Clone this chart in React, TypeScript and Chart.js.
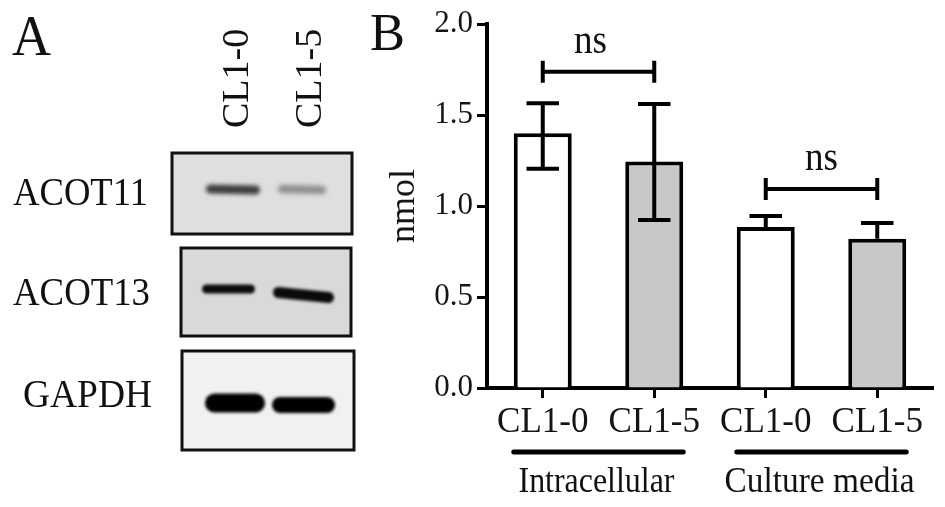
import React, { useEffect, useRef } from "react";
import { Chart, registerables } from "chart.js";

Chart.register(...registerables);

// ---- Panel B data ----
const categories = ["CL1-0", "CL1-5", "CL1-0", "CL1-5"];
const means = [1.4, 1.245, 0.885, 0.82];
const errHigh = [1.565, 1.56, 0.945, 0.907];
const errLow: (number | null)[] = [1.205, 0.923, null, null];
const barColors = ["#ffffff", "#c8c8c8", "#ffffff", "#c8c8c8"];
const yTickValues = [0, 0.5, 1.0, 1.5, 2.0];
const yTitle = "nmol";

const groupLabels = ["Intracellular", "Culture media"];
const groupStart = [0, 2];
const groupEnd = [1, 3];

const bracketFrom = [0, 2];
const bracketTo = [1, 3];
const bracketValue = [1.738, 1.093];
const bracketText = ["ns", "ns"];

// ---- Panel A (western blot) ----
const blotLabels = ["ACOT11", "ACOT13", "GAPDH"];
const laneLabels = ["CL1-0", "CL1-5"];
const bandColors = [
  ["#3c3c3c", "#8a8a8a"],
  ["#0a0a0a", "#0a0a0a"],
  ["#000000", "#000000"],
];
const panelLetters = ["A", "B"];

const SERIF = "'Liberation Serif', 'Times New Roman', serif";

function drawBand(
  ctx: CanvasRenderingContext2D,
  x1: number,
  x2: number,
  y1: number,
  y2: number,
  h: number,
  color: string,
  blur: number
) {
  ctx.save();
  ctx.filter = `blur(${blur}px)`;
  ctx.fillStyle = color;
  const len = Math.hypot(x2 - x1, y2 - y1);
  const ang = Math.atan2(y2 - y1, x2 - x1);
  ctx.translate(x1, y1);
  ctx.rotate(ang);
  ctx.beginPath();
  ctx.roundRect(0, -h / 2, len, h, h / 2);
  ctx.fill();
  ctx.restore();
}

function drawPanelA(ctx: CanvasRenderingContext2D) {
  ctx.save();
  ctx.fillStyle = "#111";
  ctx.textAlign = "left";
  ctx.textBaseline = "alphabetic";
  ctx.font = `56px ${SERIF}`;
  ctx.fillText(panelLetters[0], 12, 55, 39);
  ctx.font = `53px ${SERIF}`;
  ctx.fillText(panelLetters[1], 370, 50, 35);

  // lane labels (rotated)
  ctx.font = `38px ${SERIF}`;
  const laneX = [248, 321];
  laneLabels.forEach((t, i) => {
    ctx.save();
    ctx.translate(laneX[i], 128);
    ctx.rotate(-Math.PI / 2);
    ctx.fillText(t, 0, 0, 100);
    ctx.restore();
  });

  // boxes
  const boxes = [
    { x: 172, y: 153, w: 180, h: 81, fill: "#dfdfdf" },
    { x: 181, y: 248, w: 170, h: 88, fill: "#d9d9d9" },
    { x: 182, y: 351, w: 172, h: 99, fill: "#f1f1f1" },
  ];
  boxes.forEach((b) => {
    ctx.fillStyle = b.fill;
    ctx.fillRect(b.x, b.y, b.w, b.h);
  });

  // bands
  drawBand(ctx, 206, 260, 189, 190, 9, bandColors[0][0], 2);
  drawBand(ctx, 278, 326, 189, 190, 8, bandColors[0][1], 2.5);
  drawBand(ctx, 202, 255, 289, 289, 9, bandColors[1][0], 1.5);
  drawBand(ctx, 273, 334, 292, 298, 11, bandColors[1][1], 1.5);
  drawBand(ctx, 205, 265, 403, 403, 19, bandColors[2][0], 1.5);
  drawBand(ctx, 272, 335, 405, 405, 16, bandColors[2][1], 1.5);

  ctx.strokeStyle = "#111";
  ctx.lineWidth = 3;
  boxes.forEach((b) => {
    ctx.strokeRect(b.x, b.y, b.w, b.h);
  });

  // row labels
  ctx.fillStyle = "#111";
  ctx.font = `40px ${SERIF}`;
  ctx.fillText(blotLabels[0], 13, 205, 135);
  ctx.fillText(blotLabels[1], 13, 305, 137);
  ctx.fillText(blotLabels[2], 23, 407, 129);
  ctx.restore();
}

const annotationPlugin = {
  id: "annotations",
  afterDatasetsDraw(chart: any) {
    const ctx: CanvasRenderingContext2D = chart.ctx;
    const y = chart.scales.y;
    const meta = chart.getDatasetMeta(0);
    ctx.save();
    ctx.strokeStyle = "#000";
    ctx.lineWidth = 4;
    ctx.lineCap = "butt";
    // error bars
    meta.data.forEach((bar: any, i: number) => {
      const x = bar.x;
      const capHalf = bar.width * 0.28;
      const yTop = y.getPixelForValue(errHigh[i]);
      const low = errLow[i];
      const yBot = low != null ? y.getPixelForValue(low) : y.getPixelForValue(means[i]);
      ctx.beginPath();
      ctx.moveTo(x, yTop);
      ctx.lineTo(x, yBot);
      ctx.moveTo(x - capHalf, yTop);
      ctx.lineTo(x + capHalf, yTop);
      if (low != null) {
        ctx.moveTo(x - capHalf, yBot);
        ctx.lineTo(x + capHalf, yBot);
      }
      ctx.stroke();
    });
    // significance brackets
    const textShift = [-8, 0];
    bracketFrom.forEach((f, i) => {
      const x1 = meta.data[f].x;
      const x2 = meta.data[bracketTo[i]].x;
      const yy = y.getPixelForValue(bracketValue[i]);
      ctx.beginPath();
      ctx.moveTo(x1, yy);
      ctx.lineTo(x2, yy);
      ctx.moveTo(x1, yy - 11);
      ctx.lineTo(x1, yy + 11);
      ctx.moveTo(x2, yy - 11);
      ctx.lineTo(x2, yy + 11);
      ctx.stroke();
      ctx.fillStyle = "#111";
      ctx.font = `40px ${SERIF}`;
      ctx.textAlign = "center";
      ctx.textBaseline = "alphabetic";
      ctx.fillText(bracketText[i], (x1 + x2) / 2 + textShift[i], yy - 19, 33);
    });
    // group underlines and labels
    const groupWidths = [156, 190];
    groupLabels.forEach((g, i) => {
      const b1 = meta.data[groupStart[i]];
      const b2 = meta.data[groupEnd[i]];
      const xl = b1.x - b1.width / 2;
      const xr = b2.x + b2.width / 2;
      ctx.lineWidth = 5;
      ctx.lineCap = "round";
      ctx.beginPath();
      ctx.moveTo(xl, 452);
      ctx.lineTo(xr, 452);
      ctx.stroke();
      ctx.fillStyle = "#111";
      ctx.font = `35px ${SERIF}`;
      ctx.textAlign = "center";
      ctx.fillText(g, (xl + xr) / 2 - 2, 492, groupWidths[i]);
    });
    ctx.restore();
  },
  afterDraw(chart: any) {
    drawPanelA(chart.ctx);
  },
};

export default function App() {
  const ref = useRef<HTMLCanvasElement>(null);
  useEffect(() => {
    if (!ref.current) return;
    const chart = new Chart(ref.current, {
      type: "bar",
      data: {
        labels: categories,
        datasets: [
          {
            data: means,
            backgroundColor: barColors,
            borderColor: "#000",
            borderWidth: 4,
            borderSkipped: "start",
            barPercentage: 0.52,
            categoryPercentage: 1,
          },
        ],
      },
      options: {
        responsive: false,
        animation: false,
        devicePixelRatio: 1,
        layout: { padding: { left: 381, top: 24, right: 12, bottom: 0 } },
        plugins: { legend: { display: false }, tooltip: { enabled: false } },
        scales: {
          x: {
            type: "category",
            offset: true,
            grid: {
              display: true,
              drawOnChartArea: false,
              drawTicks: true,
              tickLength: 10,
              tickWidth: 3,
              tickColor: "#000",
              offset: false,
            },
            border: { display: true, color: "#000", width: 4 },
            ticks: {
              color: "#151515",
              font: { family: SERIF, size: 35 },
              padding: 4,
              maxRotation: 0,
              autoSkip: false,
            },
            afterFit: (s: any) => {
              s.height = 119;
            },
          },
          y: {
            min: 0,
            max: 2,
            afterBuildTicks: (s: any) => {
              s.ticks = yTickValues.map((v) => ({ value: v }));
            },
            ticks: {
              color: "#151515",
              font: { family: SERIF, size: 31 },
              padding: 4,
              callback: (v: any) => Number(v).toFixed(1),
            },
            grid: {
              drawOnChartArea: false,
              tickLength: 10,
              tickWidth: 3,
              tickColor: "#000",
            },
            border: { display: true, color: "#000", width: 4 },
            title: {
              display: true,
              text: yTitle,
              color: "#151515",
              font: { family: SERIF, size: 36 },
              padding: { top: 2, bottom: 0 },
            },
            afterFit: (s: any) => {
              s.width = 106;
            },
          },
        },
      },
      plugins: [annotationPlugin],
    } as any);
    return () => chart.destroy();
  }, []);
  return (
    <div style={{ position: "absolute", left: 0, top: 0, width: 945, height: 507, background: "#fff" }}>
      <canvas ref={ref} width={945} height={507} style={{ display: "block" }} />
    </div>
  );
}
